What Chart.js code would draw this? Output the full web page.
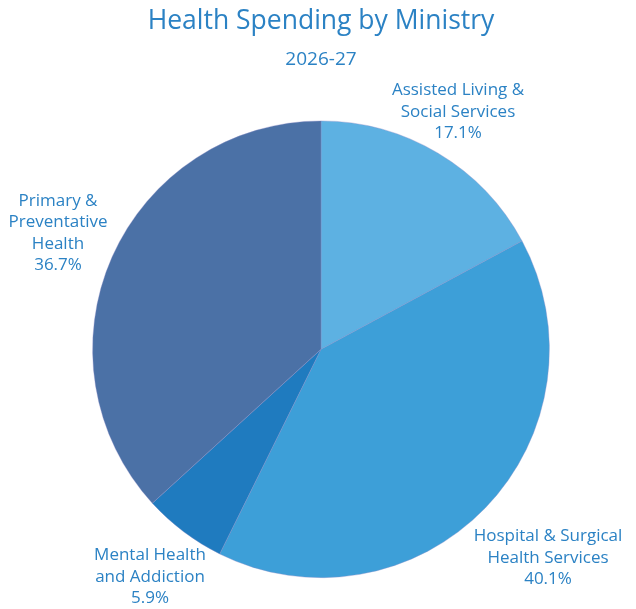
<!DOCTYPE html>
<html>
<head>
<meta charset="utf-8">
<script src="https://cdn.jsdelivr.net/npm/chart.js@4"></script>
<style>
  html, body { margin: 0; padding: 0; background: #fff; }
  #wrap { width: 636px; height: 609px; }
</style>
</head>
<body>
<div id="wrap"><canvas id="pie"></canvas></div>
<script>
// ministry shares, clockwise from 12 o'clock
const ministries = [
  ['Assisted Living &', 'Social Services'],
  ['Hospital & Surgical', 'Health Services'],
  ['Mental Health', 'and Addiction'],
  ['Primary &', 'Preventative', 'Health']
];
const shares = [17.1, 40.1, 5.9, 36.7];
const sliceColors = ['#5db1e2', '#3d9fd8', '#1f7bbf', '#4b71a6'];

const textBlue = '#2b82c4';
const fontFamily = "'Open Sans', 'Noto Sans', sans-serif";

// centre of each outside label (x, y of the middle line)
const labelSpots = [
  { x: 458, y: 112 },
  { x: 548, y: 558 },
  { x: 150, y: 577 },
  { x: 58, y: 233 }
];

const outsideLabels = {
  id: 'outsideLabels',
  afterDraw(chart) {
    const ctx = chart.ctx;
    ctx.save();
    ctx.fillStyle = textBlue;
    ctx.font = '17px ' + fontFamily;
    ctx.textAlign = 'center';
    ctx.textBaseline = 'middle';
    const lh = 21.5;
    shares.forEach((v, i) => {
      const lines = ministries[i].concat([v.toFixed(1) + '%']);
      const spot = labelSpots[i];
      const top = spot.y - (lines.length - 1) * lh / 2;
      lines.forEach((t, j) => ctx.fillText(t, spot.x, top + j * lh));
    });
    ctx.restore();
  }
};

new Chart(document.getElementById('pie'), {
  type: 'pie',
  data: {
    labels: ministries.map(m => m.join(' ')),
    datasets: [{
      data: shares,
      backgroundColor: sliceColors,
      borderColor: 'rgba(140, 140, 200, 0.6)',
      borderWidth: 0.6
    }]
  },
  options: {
    responsive: true,
    maintainAspectRatio: false,
    animation: false,
    layout: { padding: { left: 6, right: 0, top: 0, bottom: 31 } },
    plugins: {
      legend: { display: false },
      tooltip: { enabled: false },
      title: {
        display: true,
        text: 'Health Spending by Ministry',
        color: textBlue,
        font: { family: fontFamily, size: 26.5, weight: 'normal' },
        padding: { top: 6, bottom: 10 }
      },
      subtitle: {
        display: true,
        text: '2026-27',
        color: textBlue,
        font: { family: fontFamily, size: 19, weight: 'normal' },
        padding: { top: 0, bottom: 50 }
      }
    }
  },
  plugins: [outsideLabels]
});
</script>
</body>
</html>
